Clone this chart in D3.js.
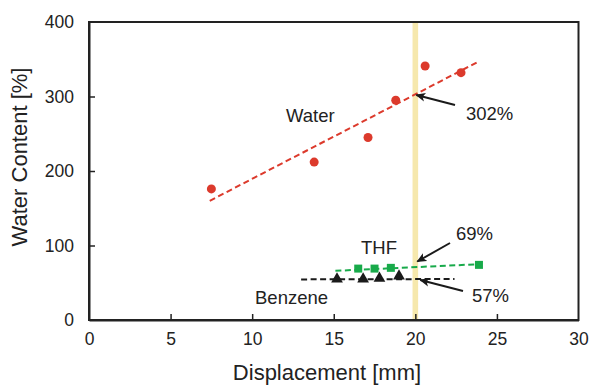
<!DOCTYPE html>
<html><head><meta charset="utf-8">
<script src="https://cdn.jsdelivr.net/npm/d3@7"></script>
<style>body{margin:0;background:#fff}svg{display:block}text{font-family:"Liberation Sans",Arial,sans-serif;fill:#222}</style>
</head><body>
<script>
const xTicks = [0, 5, 10, 15, 20, 25, 30];
const yTicks = [0, 100, 200, 300, 400];
const waterX = [7.5, 13.8, 17.1, 18.8, 20.6, 22.8];
const waterY = [176, 212, 245, 295, 341, 332];
const thfX = [16.5, 17.5, 18.5, 23.9];
const thfY = [69, 69, 70, 74];
const benzeneX = [15.2, 16.8, 17.8, 19.0];
const benzeneY = [55, 55, 56, 59];
const waterFitX = [7.4, 23.8];
const waterFitY = [160, 346];
const thfFitX = [15.1, 24.0];
const thfFitY = [66, 75];
const benzeneFitX = [13.0, 22.4];
const benzeneFitY = [54.5, 55];
const markerX = 20;

const W = 591, H = 385;
const svg = d3.select("body").append("svg").attr("width", W).attr("height", H);
const x = d3.scaleLinear().domain([0, 30]).range([89, 578.5]);
const y = d3.scaleLinear().domain([0, 400]).range([320, 22]);
const axisCol = "#222";

// highlight band
svg.append("rect").attr("x", x(markerX) - 2.8).attr("width", 5.6)
  .attr("y", y(400) + 1).attr("height", y(0) - y(400) - 1).attr("fill", "#f6e8ad");

// frame
svg.append("rect").attr("x", x(0)).attr("y", y(400)).attr("width", x(30) - x(0)).attr("height", y(0) - y(400))
  .attr("fill", "none").attr("stroke", axisCol).attr("stroke-width", 2);

const xAxis = svg.append("g").attr("transform", `translate(0,${y(0)})`)
  .call(d3.axisBottom(x).tickValues(xTicks).tickSizeInner(-6).tickSizeOuter(0).tickPadding(13));
const yAxis = svg.append("g").attr("transform", `translate(${x(0)},0)`)
  .call(d3.axisLeft(y).tickValues(yTicks).tickSizeInner(-6).tickSizeOuter(0).tickPadding(15));
[xAxis, yAxis].forEach(g => {
  g.select(".domain").attr("stroke", axisCol).attr("stroke-width", 2);
  g.selectAll(".tick line").attr("stroke", axisCol).attr("stroke-width", 1.5);
  g.selectAll(".tick text").attr("font-size", 17.5).attr("fill", "#222")
    .style("font-family", '"Liberation Sans", Arial, sans-serif');
});
xAxis.selectAll(".tick").filter(d => d === 0 || d === 30).select("line").remove();
yAxis.selectAll(".tick").filter(d => d === 0 || d === 400).select("line").remove();

// axis titles
svg.append("text").attr("x", 327).attr("y", 380).attr("text-anchor", "middle").attr("font-size", 22).text("Displacement [mm]");
svg.append("text").attr("transform", "translate(27,157) rotate(-90)").attr("text-anchor", "middle").attr("font-size", 22).text("Water Content [%]");

// fit lines
function fit(xs, ys, col) {
  svg.append("line").attr("x1", x(xs[0])).attr("y1", y(ys[0])).attr("x2", x(xs[1])).attr("y2", y(ys[1]))
    .attr("stroke", col).attr("stroke-width", 2).attr("stroke-dasharray", "6,3.5");
}
fit(waterFitX, waterFitY, "#dc3a2c");
fit(thfFitX, thfFitY, "#18aa4a");
fit(benzeneFitX, benzeneFitY, "#1a1a1a");

// markers
svg.append("g").selectAll("circle").data(waterX).join("circle")
  .attr("cx", d => x(d)).attr("cy", (d, i) => y(waterY[i])).attr("r", 4.5).attr("fill", "#dc3a2c");
svg.append("g").selectAll("path").data(thfX).join("path")
  .attr("transform", (d, i) => `translate(${x(d)},${y(thfY[i])})`)
  .attr("d", d3.symbol(d3.symbolSquare, 64)).attr("fill", "#18aa4a");
svg.append("g").selectAll("path").data(benzeneX).join("path")
  .attr("transform", (d, i) => `translate(${x(d)},${y(benzeneY[i])})`)
  .attr("d", d3.symbol(d3.symbolTriangle, 60)).attr("fill", "#1a1a1a");

// arrows
const defs = svg.append("defs");
defs.append("marker").attr("id", "ah").attr("viewBox", "0 0 10 10").attr("refX", 9).attr("refY", 5)
  .attr("markerWidth", 10).attr("markerHeight", 10).attr("markerUnits", "userSpaceOnUse").attr("orient", "auto")
  .append("path").attr("d", "M0,0.5 L10,5 L0,9.5 L2.5,5 Z").attr("fill", "#1a1a1a");
function arrow(x1, y1, x2, y2) {
  svg.append("line").attr("x1", x1).attr("y1", y1).attr("x2", x2).attr("y2", y2)
    .attr("stroke", "#1a1a1a").attr("stroke-width", 2).attr("marker-end", "url(#ah)");
}
arrow(455, 105, x(markerX) + 1, y(302));
arrow(450, 243, x(markerX) + 2, 261.5);
arrow(463, 291, x(markerX) + 5, 280);

// labels
const lab = (t, px, py) => svg.append("text").attr("x", px).attr("y", py).attr("font-size", 18.5).text(t);
lab("Water", 286, 122);
lab("302%", 466, 120);
lab("THF", 361, 254);
lab("69%", 456, 240);
lab("Benzene", 255, 304);
lab("57%", 472, 302);
</script>
</body></html>
